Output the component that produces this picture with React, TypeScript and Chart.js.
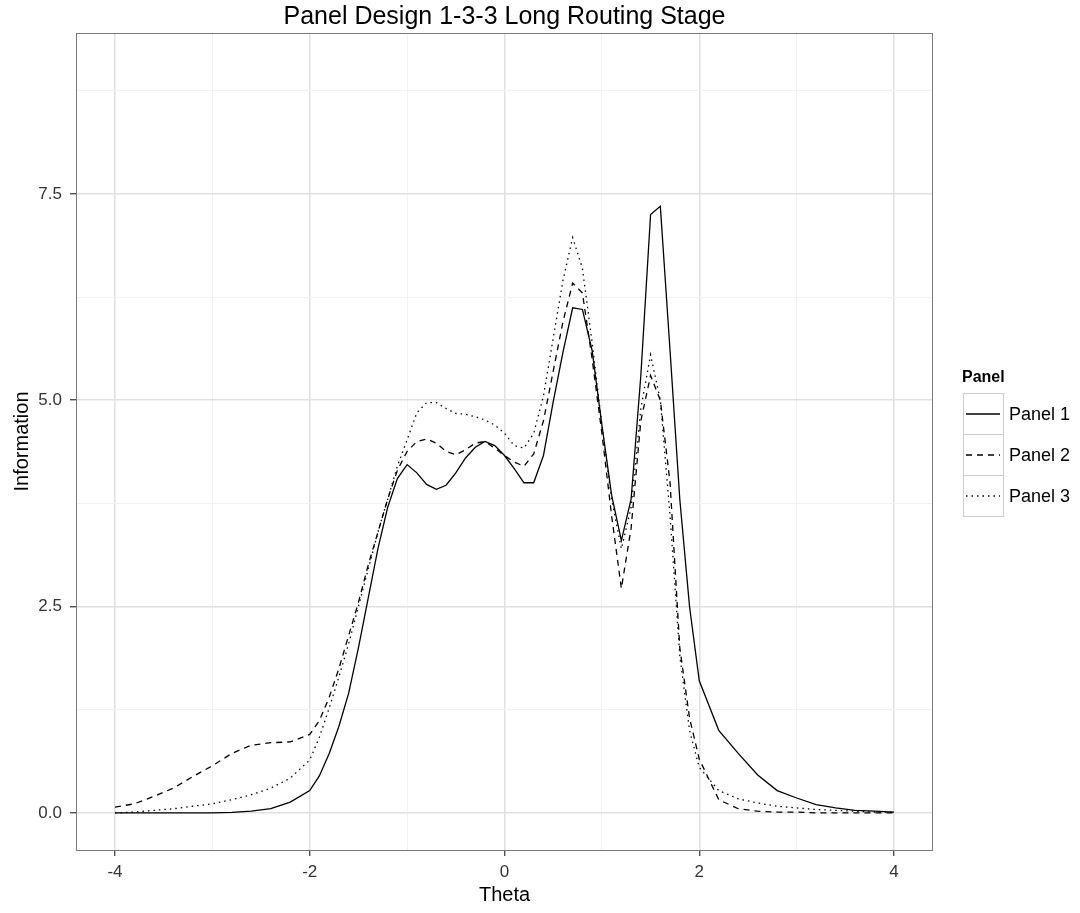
import React, { useEffect, useRef } from 'react';
import { Chart, registerables } from 'chart.js';

Chart.register(...registerables);

// ---- data ----
const theta = [
  -4, -3.8, -3.6, -3.4, -3.2, -3, -2.8, -2.6, -2.4, -2.2,
  -2, -1.9, -1.8, -1.7, -1.6, -1.5, -1.4, -1.3, -1.2, -1.1,
  -1, -0.9, -0.8, -0.7, -0.6, -0.5, -0.4, -0.3, -0.2, -0.1,
  0, 0.1, 0.2, 0.3, 0.4, 0.5, 0.6, 0.7, 0.8, 0.9,
  1, 1.1, 1.2, 1.3, 1.4, 1.5, 1.6, 1.7, 1.8, 1.9,
  2, 2.2, 2.4, 2.6, 2.8, 3, 3.2, 3.4, 3.6, 3.8, 4,
];

const panel1 = [
  0, 0, 0, 0, 0, 0, 0.005, 0.02, 0.05, 0.13,
  0.27, 0.45, 0.72, 1.05, 1.45, 2.0, 2.6, 3.2, 3.7, 4.05,
  4.22, 4.12, 3.98, 3.92, 3.97, 4.12, 4.3, 4.43, 4.5, 4.45,
  4.33, 4.17, 4.0, 4.0, 4.33, 4.98, 5.58, 6.12, 6.1, 5.6,
  4.7, 3.85, 3.3, 3.8, 5.3, 7.25, 7.35, 5.6, 3.8, 2.5,
  1.6, 1.0, 0.72, 0.46, 0.27, 0.18, 0.1, 0.06, 0.03, 0.02, 0.01,
];

const panel2 = [
  0.07, 0.11, 0.2, 0.3, 0.44, 0.57, 0.72, 0.82, 0.85, 0.86,
  0.95, 1.12, 1.4, 1.75, 2.15, 2.55, 3.0, 3.4, 3.8, 4.15,
  4.38, 4.5, 4.53, 4.48, 4.38, 4.34, 4.4, 4.48, 4.5, 4.42,
  4.33, 4.25, 4.2, 4.35, 4.75, 5.35, 5.95, 6.42, 6.3, 5.5,
  4.6, 3.6, 2.72, 3.45, 4.75, 5.3, 5.0, 4.0, 2.0, 1.15,
  0.65, 0.16, 0.05, 0.02, 0.01, 0.01, 0, 0, 0, 0, 0,
];

const panel3 = [
  0.0, 0.01, 0.03, 0.05, 0.08, 0.11, 0.16, 0.22, 0.3, 0.42,
  0.64, 0.92, 1.27, 1.65, 2.05, 2.5, 2.95, 3.4, 3.8, 4.2,
  4.52, 4.85, 4.97, 4.97, 4.9, 4.84, 4.83, 4.8, 4.76, 4.7,
  4.6, 4.45, 4.42, 4.6, 5.05, 5.75, 6.45, 6.97, 6.6, 5.7,
  4.7, 3.8, 3.2, 3.7, 4.9, 5.55, 5.0, 3.6, 1.9, 1.0,
  0.55, 0.27, 0.17, 0.12, 0.08, 0.06, 0.04, 0.03, 0.02, 0.01, 0.01,
];

const seriesNames = ['Panel 1', 'Panel 2', 'Panel 3'];
const seriesValues = [panel1, panel2, panel3];
const seriesDash = [[], [6, 5], [1.5, 4]];

const xGridTicks = [-4, -3, -2, -1, 0, 1, 2, 3, 4];
const xLabelTicks = [-4, -2, 0, 2, 4];
const xLabels = ['-4', '-2', '0', '2', '4'];
const yGridTicks = [0, 1.25, 2.5, 3.75, 5, 6.25, 7.5, 8.75];
const yLabelTicks = [0, 2.5, 5, 7.5];
const yLabels = ['0.0', '2.5', '5.0', '7.5'];

const chartTitle = 'Panel Design 1-3-3 Long Routing Stage';
const xTitle = 'Theta';
const yTitle = 'Information';
const legendTitle = 'Panel';

const FONT = '"Liberation Sans", Arial, sans-serif';

const labelIndex = (arr: number[], v: number) => arr.findIndex((a) => Math.abs(a - v) < 1e-9);

const decorPlugin = {
  id: 'decor',
  afterDraw(chart: any) {
    const { ctx, chartArea } = chart;
    const { left, right, top, bottom } = chartArea;
    ctx.save();
    // panel border
    ctx.strokeStyle = '#7a7a7a';
    ctx.lineWidth = 1;
    ctx.setLineDash([]);
    ctx.strokeRect(Math.round(left) + 0.5, Math.round(top) + 0.5, Math.round(right - left) - 1, Math.round(bottom - top));
    // title
    ctx.fillStyle = '#000';
    ctx.font = `25px ${FONT}`;
    ctx.textAlign = 'center';
    ctx.textBaseline = 'middle';
    ctx.fillText(chartTitle, (left + right) / 2, 17);
    // legend
    const lx = 963;
    const ly = 393;
    const kw = 40;
    const kh = 41;
    ctx.font = `bold 16px ${FONT}`;
    ctx.textAlign = 'left';
    ctx.fillText(legendTitle, 962, 378);
    for (let i = 0; i < seriesNames.length; i++) {
      const y0 = ly + i * kh;
      ctx.fillStyle = '#fff';
      ctx.fillRect(lx, y0, kw, kh);
      ctx.strokeStyle = '#cccccc';
      ctx.lineWidth = 1;
      ctx.setLineDash([]);
      ctx.strokeRect(lx + 0.5, y0 + 0.5, kw, kh);
      ctx.strokeStyle = '#000';
      ctx.lineWidth = 1.3;
      ctx.setLineDash(seriesDash[i]);
      ctx.beginPath();
      ctx.moveTo(lx + 3, y0 + kh / 2 + 0.5);
      ctx.lineTo(lx + kw - 3, y0 + kh / 2 + 0.5);
      ctx.stroke();
      ctx.setLineDash([]);
      ctx.fillStyle = '#000';
      ctx.font = `18px ${FONT}`;
      ctx.fillText(seriesNames[i], 1009, y0 + kh / 2 + 2);
    }
    ctx.restore();
  },
};

export default function App() {
  const ref = useRef<HTMLCanvasElement | null>(null);

  useEffect(() => {
    if (!ref.current) return;
    const chart = new Chart(ref.current, {
      type: 'line',
      data: {
        datasets: seriesNames.map((name, i) => ({
          label: name,
          data: theta.map((t, j) => ({ x: t, y: seriesValues[i][j] })),
          borderColor: '#000',
          borderWidth: 1.3,
          borderDash: seriesDash[i],
          pointRadius: 0,
          tension: 0,
          fill: false,
        })),
      },
      options: {
        animation: false,
        responsive: false,
        devicePixelRatio: 1,
        layout: { padding: { left: 0, right: 147, top: 33, bottom: 0 } },
        plugins: {
          legend: { display: false },
          title: { display: false },
          tooltip: { enabled: false },
        },
        scales: {
          x: {
            type: 'linear',
            min: -4.4,
            max: 4.4,
            afterBuildTicks: (s: any) => {
              s.ticks = xGridTicks.map((v) => ({ value: v }));
            },
            afterFit: (s: any) => {
              s.height = 63;
            },
            ticks: {
              autoSkip: false,
              maxRotation: 0,
              padding: 6,
              color: '#333',
              font: { family: FONT, size: 17 },
              callback: (v: any) => {
                const k = labelIndex(xLabelTicks, Number(v));
                return k >= 0 ? xLabels[k] : '';
              },
            },
            grid: {
              color: (c: any) => (labelIndex(xLabelTicks, c.tick?.value) >= 0 ? '#e0e0e0' : '#f2f2f2'),
              lineWidth: (c: any) => (labelIndex(xLabelTicks, c.tick?.value) >= 0 ? 1.5 : 1),
              tickColor: (c: any) => (labelIndex(xLabelTicks, c.tick?.value) >= 0 ? '#333' : 'rgba(0,0,0,0)'),
              tickLength: 6,
              tickWidth: 1.2,
            },
            border: { display: false },
            title: {
              display: true,
              text: xTitle,
              color: '#000',
              font: { family: FONT, size: 20 },
              padding: { top: 0, bottom: 6 },
            },
          },
          y: {
            type: 'linear',
            min: -0.45,
            max: 9.45,
            afterBuildTicks: (s: any) => {
              s.ticks = yGridTicks.map((v) => ({ value: v }));
            },
            afterFit: (s: any) => {
              s.width = 76;
            },
            ticks: {
              autoSkip: false,
              padding: 8,
              color: '#333',
              font: { family: FONT, size: 17 },
              callback: (v: any) => {
                const k = labelIndex(yLabelTicks, Number(v));
                return k >= 0 ? yLabels[k] : '';
              },
            },
            grid: {
              color: (c: any) => (labelIndex(yLabelTicks, c.tick?.value) >= 0 ? '#e0e0e0' : '#f2f2f2'),
              lineWidth: (c: any) => (labelIndex(yLabelTicks, c.tick?.value) >= 0 ? 1.5 : 1),
              tickColor: (c: any) => (labelIndex(yLabelTicks, c.tick?.value) >= 0 ? '#333' : 'rgba(0,0,0,0)'),
              tickLength: 6,
              tickWidth: 1.2,
            },
            border: { display: false },
            title: {
              display: true,
              text: yTitle,
              color: '#000',
              font: { family: FONT, size: 20 },
              padding: { top: 10, bottom: 0 },
            },
          },
        },
      },
      plugins: [decorPlugin],
    } as any);
    return () => chart.destroy();
  }, []);

  return (
    <div style={{ position: 'fixed', left: 0, top: 0, width: 1080, height: 913, background: '#fff' }}>
      <canvas ref={ref} width={1080} height={913} style={{ display: 'block' }} />
    </div>
  );
}
